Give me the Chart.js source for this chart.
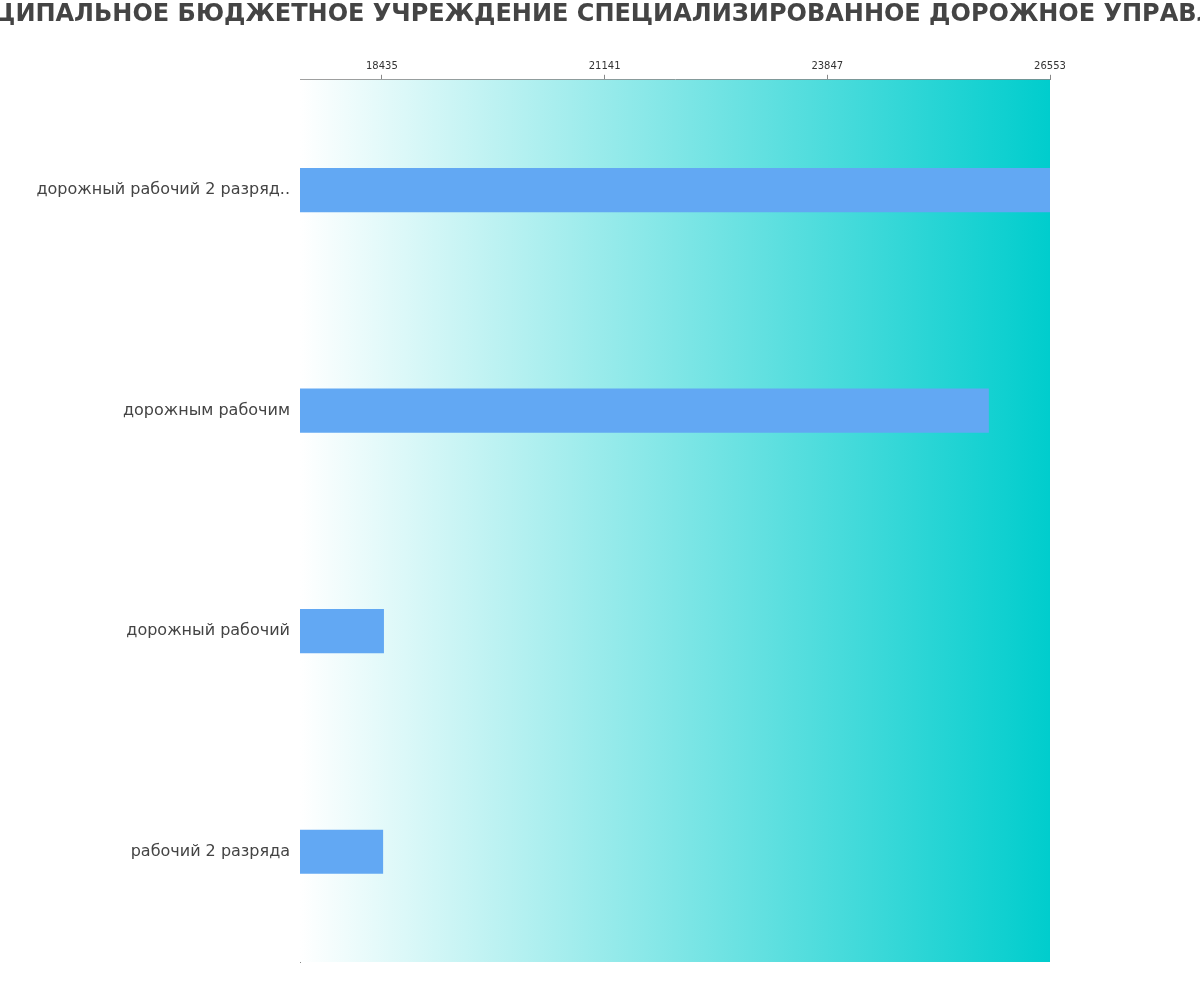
<!DOCTYPE html>
<html><head><meta charset="utf-8">
<script src="https://cdn.jsdelivr.net/npm/chart.js@4/dist/chart.umd.min.js"></script>
<style>html,body{margin:0;padding:0;background:#fff}#w{width:1200px;height:1000px}</style>
</head><body><div id="w"><canvas id="c"></canvas></div>
<script>
const titleText = "МУНИЦИПАЛЬНОЕ БЮДЖЕТНОЕ УЧРЕЖДЕНИЕ СПЕЦИАЛИЗИРОВАННОЕ ДОРОЖНОЕ УПРАВЛЕНИЕ";
const categories = ["дорожный рабочий 2 разряд..", "дорожным рабочим", "дорожный рабочий", "рабочий 2 разряда"];
const values = [26553, 25810, 18460, 18450];
const tickValues = [18435, 21141, 23847, 26553];
const axisMin = 17440, axisMax = 26553;

const bg = {
  id: 'bg',
  beforeDatasetsDraw(chart) {
    const {ctx, chartArea: a} = chart;
    const g = ctx.createLinearGradient(a.left, 0, a.right, 0);
    g.addColorStop(0, '#ffffff');
    g.addColorStop(1, '#00cdcd');
    ctx.save(); ctx.fillStyle = g; ctx.fillRect(a.left, a.top, a.right - a.left, a.bottom - a.top); ctx.restore();
  },
  afterDraw(chart) {
    const ctx = chart.ctx;
    ctx.save();
    ctx.font = 'bold 24px "DejaVu Sans"';
    ctx.fillStyle = '#444';
    ctx.textAlign = 'center'; ctx.textBaseline = 'middle';
    ctx.fillText(titleText, 600, 15);
    ctx.restore();
  }
};

new Chart(document.getElementById('c'), {
  type: 'bar',
  data: { labels: categories, datasets: [{ data: values, backgroundColor: '#62a8f3', barPercentage: 0.2, categoryPercentage: 1 }] },
  options: {
    indexAxis: 'y', responsive: true, maintainAspectRatio: false, animation: false,
    layout: { padding: { top: 0, right: 150, bottom: 38, left: 0 } },
    plugins: { legend: { display: false }, tooltip: { enabled: false },
      title: { display: true, text: ' ', padding: { top: 0, bottom: 30 }, font: { size: 24 } } },
    scales: {
      x: { position: 'top', min: axisMin, max: axisMax,
        afterBuildTicks(s) { s.ticks = tickValues.map(v => ({ value: v })); },
        grid: { display: true, drawOnChartArea: false, drawTicks: true, tickLength: 5, color: '#888' },
        border: { display: true, color: '#888' },
        ticks: { color: '#333', font: { size: 10, family: 'DejaVu Sans' }, padding: 2, maxRotation: 0, callback: v => String(v) } },
      y: { grid: { display: false, drawTicks: false }, border: { display: true, color: '#888' },
        afterFit(s) { s.width = 300; },
        ticks: { color: '#444', font: { size: 16, family: 'DejaVu Sans' }, padding: 10 } }
    }
  },
  plugins: [bg]
});
</script></body></html>
